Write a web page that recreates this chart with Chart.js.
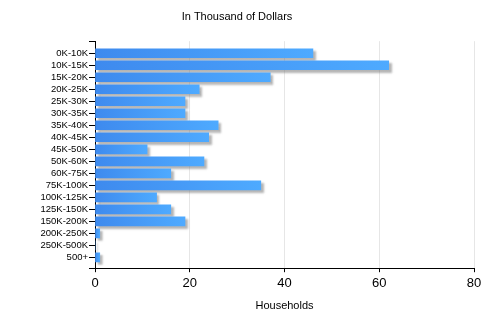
<!DOCTYPE html>
<html>
<head>
<meta charset="utf-8">
<script src="https://cdn.jsdelivr.net/npm/chart.js@4"></script>
<style>
  html, body { margin: 0; padding: 0; background: #fff; }
  #wrap { width: 500px; height: 325px; position: relative; }
</style>
</head>
<body>
<div id="wrap"><canvas id="incomeChart"></canvas></div>
<script>
// Household counts per income bracket
const brackets = ['0K-10K', '10K-15K', '15K-20K', '20K-25K', '25K-30K', '30K-35K',
  '35K-40K', '40K-45K', '45K-50K', '50K-60K', '60K-75K', '75K-100K',
  '100K-125K', '125K-150K', '150K-200K', '200K-250K', '250K-500K', '500+'];
const households = [46, 62, 37, 22, 19, 19, 26, 24, 11, 23, 16, 35, 13, 16, 19, 1, 0, 1];
const xTicks = [0, 20, 40, 60, 80];

// soft grey drop shadow behind the bars
const barShadow = {
  id: 'barShadow',
  beforeDatasetsDraw: function(chart) {
    const c = chart.ctx;
    c.save();
    c.shadowColor = 'rgba(120,120,120,0.55)';
    c.shadowBlur = 2;
    c.shadowOffsetX = 2.5;
    c.shadowOffsetY = 2.5;
  },
  afterDatasetsDraw: function(chart) {
    chart.ctx.restore();
  }
};

// each bar fades from a deeper blue at the base to a lighter blue at its end
function barGradient(context) {
  const chart = context.chart;
  if (!chart.chartArea || !context.parsed) return '#4596f5';
  const xs = chart.scales.x;
  const x0 = xs.getPixelForValue(0);
  const x1 = Math.max(xs.getPixelForValue(context.parsed.x), x0 + 1);
  const g = chart.ctx.createLinearGradient(x0, 0, x1, 0);
  g.addColorStop(0, '#3e8aee');
  g.addColorStop(1, '#4eaaff');
  return g;
}

const ctx = document.getElementById('incomeChart');
new Chart(ctx, {
  type: 'bar',
  data: {
    datasets: [{
      label: 'Households',
      data: brackets.map(function(b, i) { return { x: households[i], y: i }; }),
      backgroundColor: barGradient,
      borderWidth: 0,
      barThickness: 9
    }]
  },
  plugins: [barShadow],
  options: {
    indexAxis: 'y',
    responsive: true,
    maintainAspectRatio: false,
    animation: false,
    layout: { padding: { left: 0, right: 26, top: 0, bottom: 8 } },
    plugins: {
      legend: { display: false },
      tooltip: { enabled: false },
      title: {
        display: true,
        text: 'In Thousand of Dollars',
        color: '#000',
        font: { family: 'Liberation Sans, Arial, sans-serif', size: 11, weight: 'normal' },
        padding: { top: 10, bottom: 18 }
      }
    },
    scales: {
      x: {
        type: 'linear',
        min: 0,
        max: 80,
        afterBuildTicks: function(scale) {
          scale.ticks = xTicks.map(function(v) { return { value: v }; });
        },
        grid: { color: '#e6e6e6', tickColor: '#000', tickLength: 4 },
        border: { color: '#000', width: 1 },
        ticks: {
          color: '#000',
          padding: 3,
          font: { family: 'Liberation Sans, Arial, sans-serif', size: 13 }
        },
        title: {
          display: true,
          text: 'Households',
          color: '#000',
          font: { family: 'Liberation Sans, Arial, sans-serif', size: 11 },
          padding: { top: 6, bottom: 4 }
        }
      },
      y: {
        type: 'linear',
        reverse: true,
        offset: false,
        min: -1,
        max: 17.9,
        afterBuildTicks: function(scale) {
          const t = [{ value: -1 }];
          brackets.forEach(function(b, i) { t.push({ value: i }); });
          t.push({ value: 17.9 });
          scale.ticks = t;
        },
        afterFit: function(scale) { scale.width = 95; },
        grid: { offset: false, drawOnChartArea: false, tickColor: '#000', tickLength: 6 },
        border: { color: '#000', width: 1 },
        ticks: {
          color: '#000',
          padding: 1,
          autoSkip: false,
          font: { family: 'Liberation Sans, Arial, sans-serif', size: 9.5 },
          callback: function(value) {
            return Number.isInteger(value) && brackets[value] !== undefined ? brackets[value] : '';
          }
        }
      }
    }
  }
});
</script>
</body>
</html>
